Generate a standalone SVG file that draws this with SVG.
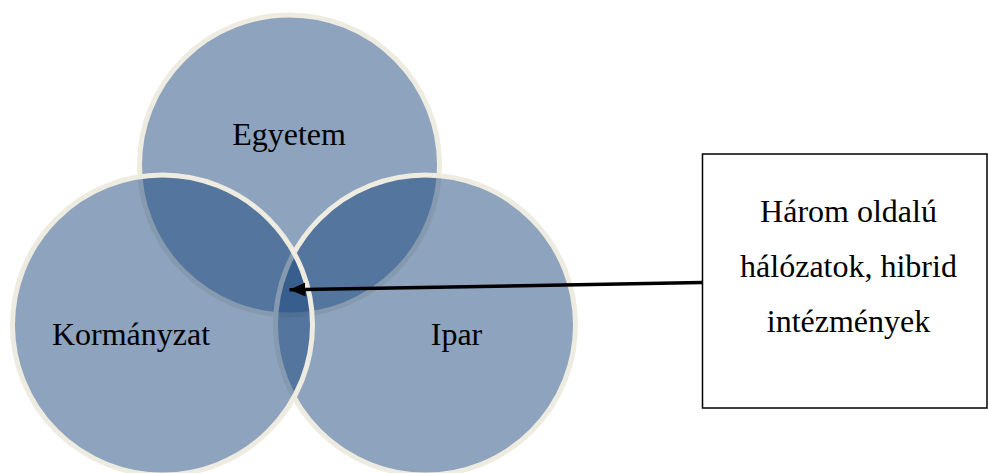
<svg xmlns="http://www.w3.org/2000/svg" width="988" height="473" viewBox="0 0 988 473">
<style>
.c{fill:#1B477D;fill-opacity:0.5;stroke:#EEEBE0;stroke-width:5}
.t{font-family:"Liberation Serif","Times New Roman",serif;font-size:32px;fill:#000;text-anchor:middle}
</style>
<defs>
<marker id="ah" markerUnits="userSpaceOnUse" markerWidth="18" markerHeight="16" refX="16" refY="7" orient="auto">
<path d="M0,0 L16,7 L0,14 Z" fill="#000"/>
</marker>
</defs>
<rect width="988" height="473" fill="#fff"/>
<g id="egyetem">
<circle class="c" cx="289.5" cy="165" r="150"/>
<text class="t" x="289" y="145">Egyetem</text>
</g>
<g id="ipar">
<circle class="c" cx="425.5" cy="325" r="150"/>
</g>
<g id="kormanyzat">
<circle class="c" cx="162.5" cy="325" r="150"/>
</g>
<g id="labels">
<text class="t" x="131" y="345">Kormányzat</text>
<text class="t" x="456.5" y="345">Ipar</text>
</g>
<g id="box">
<rect x="702.5" y="154" width="284.5" height="254" fill="#fff" stroke="#000" stroke-width="1.5"/>
<text class="t" x="848.5" y="222">Három oldalú</text>
<text class="t" x="848.5" y="277">hálózatok, hibrid</text>
<text class="t" x="848.5" y="332">intézmények</text>
</g>
<g id="connectors">
<line x1="702" y1="282.5" x2="289.5" y2="289.8" stroke="#000" stroke-width="3.5" marker-end="url(#ah)"/>
</g>
</svg>
